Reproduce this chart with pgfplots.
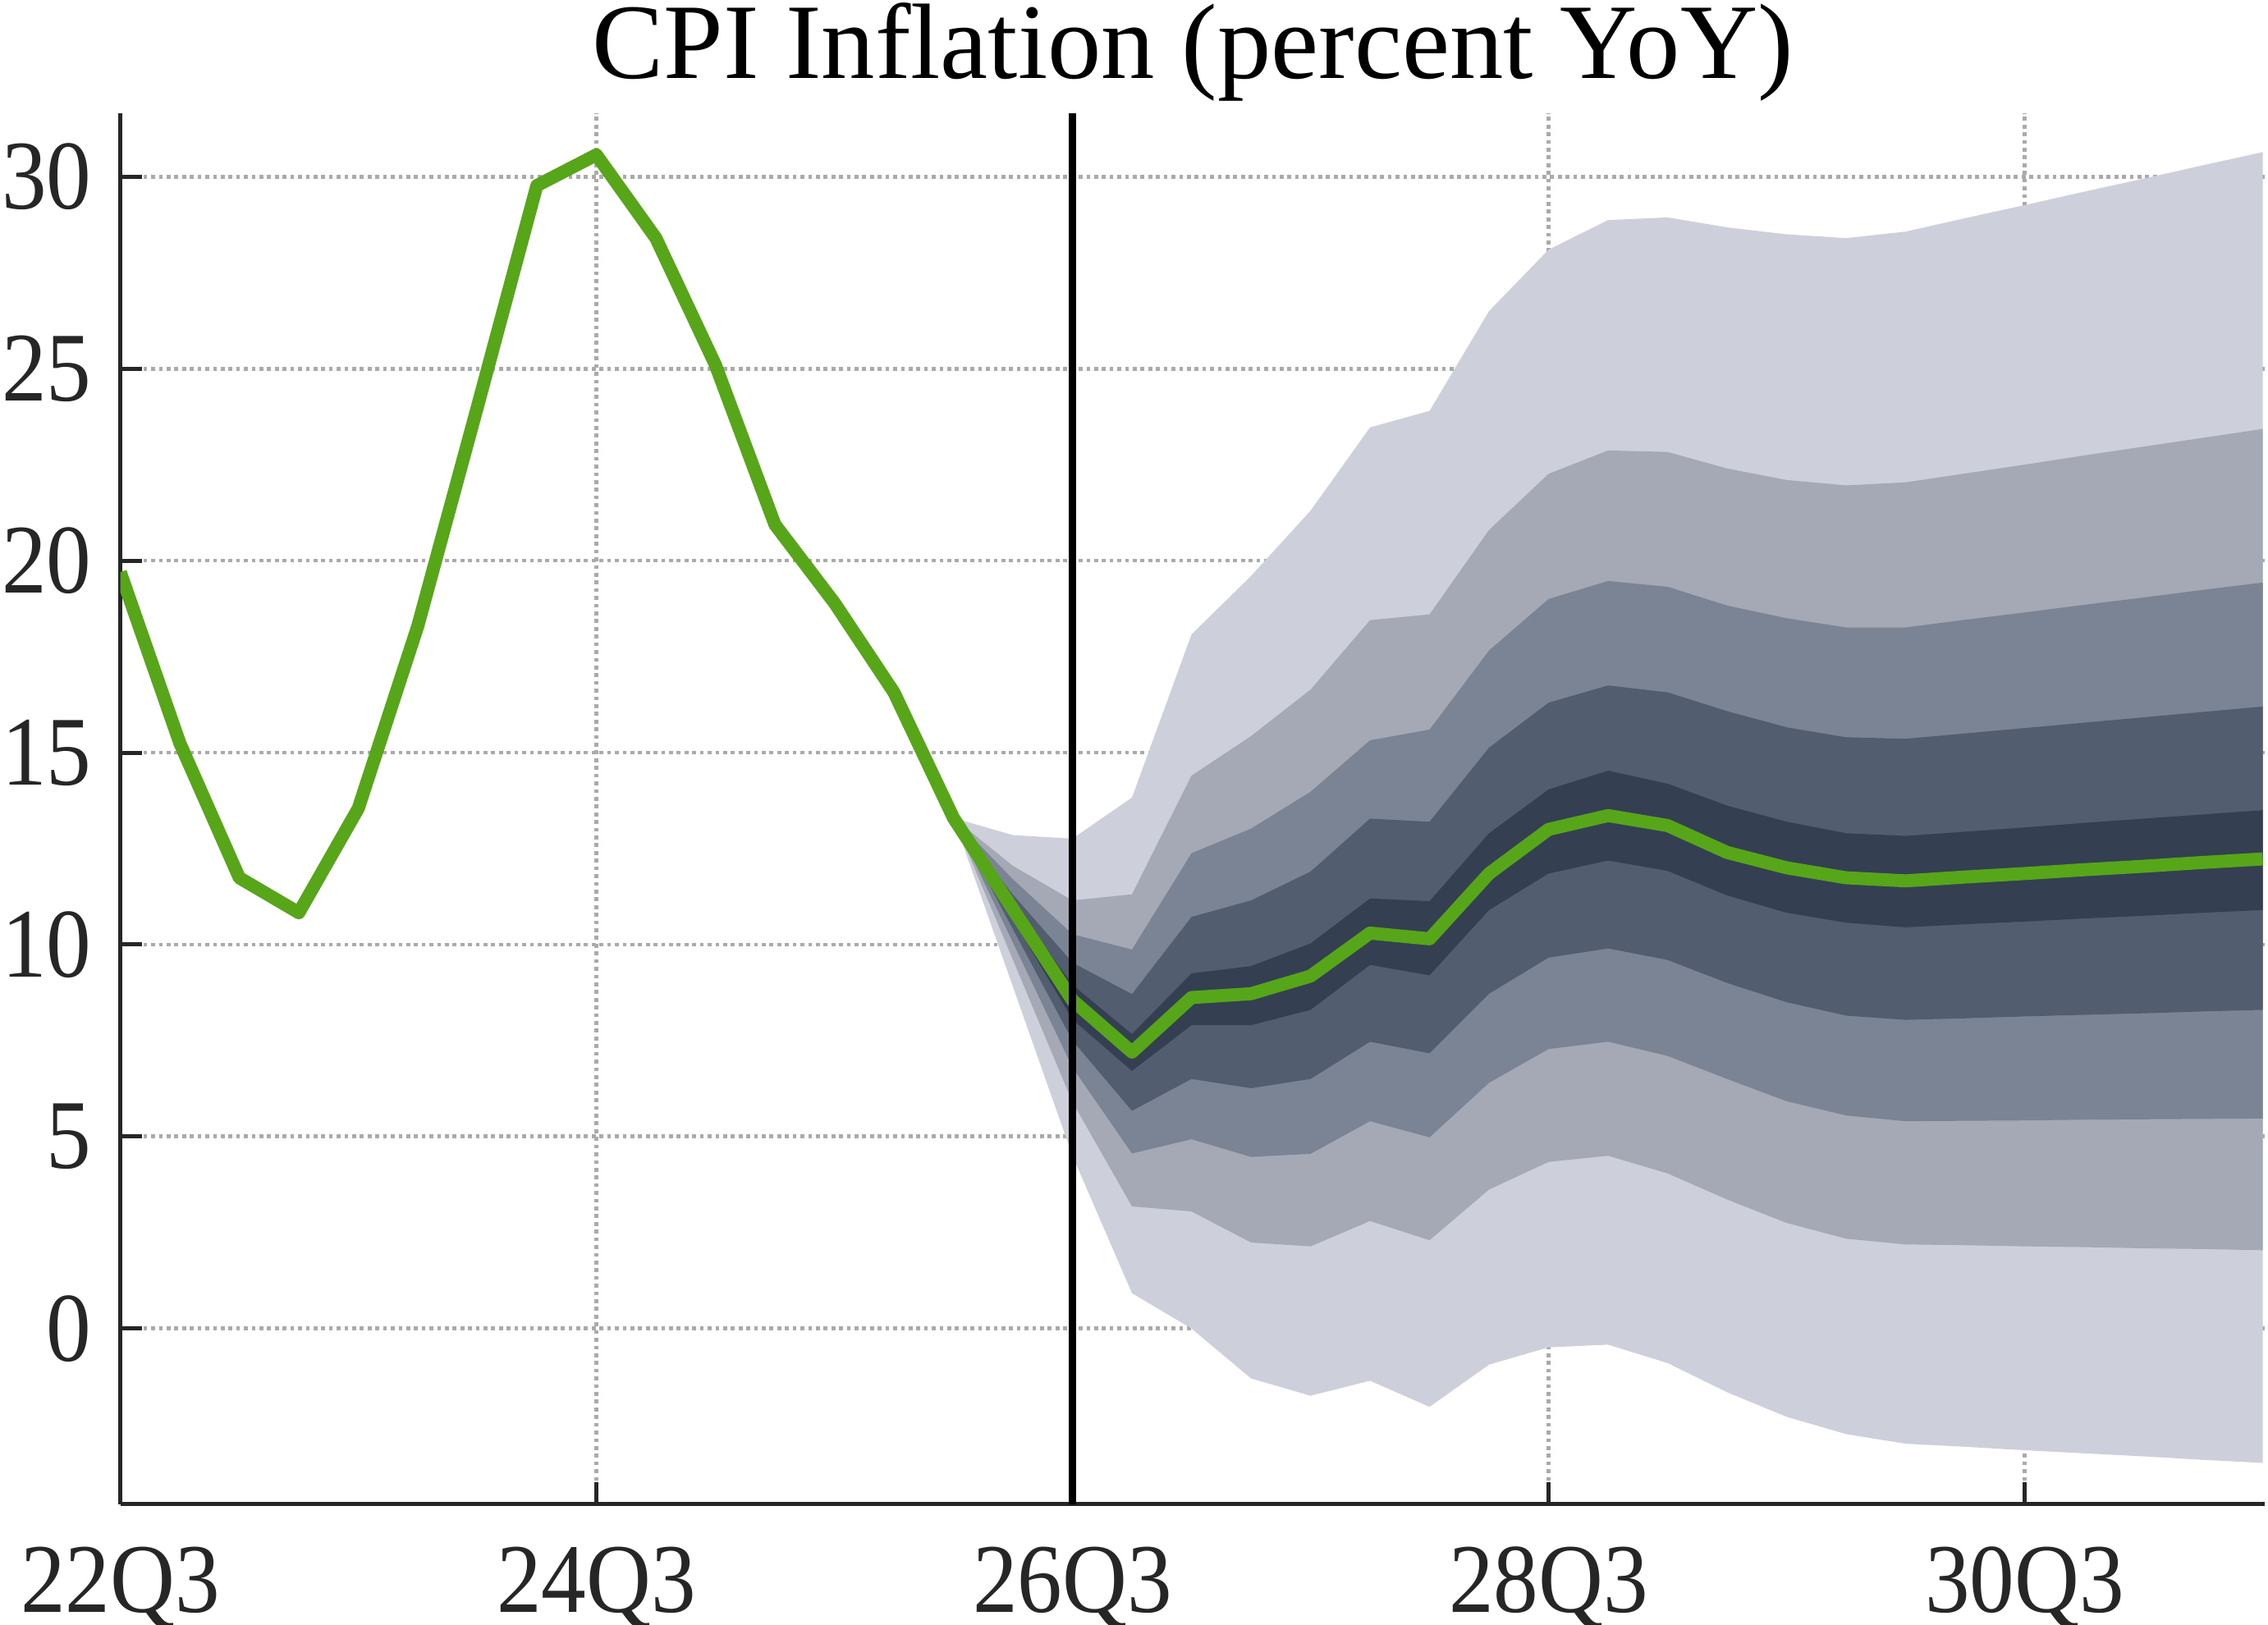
\documentclass[border=0pt]{standalone}
\usepackage{fontspec}
\setmainfont{Liberation Serif}
\newfontfamily\tickfont[FakeStretch=0.91]{Liberation Serif}
\usepackage{pgfplots}
\pgfplotsset{compat=1.18}
\definecolor{fanA}{HTML}{CDD0DA}
\definecolor{fanB}{HTML}{A5A9B5}
\definecolor{fanC}{HTML}{7B8495}
\definecolor{fanD}{HTML}{525E70}
\definecolor{fanE}{HTML}{344052}
\definecolor{cpigreen}{HTML}{57A519}
\definecolor{axisc}{HTML}{262626}
\definecolor{gridc}{HTML}{AAAAAA}
\begin{document}
\begin{tikzpicture}
\begin{axis}[
  name=ax,
  scale only axis, width=444pt, height=288pt,
  xmin=0, xmax=36.04, ymin=-4.57, ymax=31.66,
  axis x line*=bottom, axis y line*=left,
  axis line style={color=axisc, line width=0.9pt},
  xtick={0,8,16,24,32}, xticklabels={22Q3,24Q3,26Q3,28Q3,30Q3},
  ytick={0,5,10,15,20,25,30},
  tick align=inside, major tick length=4.5pt,
  tick style={color=axisc, line width=0.85pt},
  grid=major,
  major grid style={color=gridc, line width=0.8pt, dash pattern=on 0.8pt off 0.8pt},
  ticklabel style={font=\tickfont\fontsize{20.4}{20.4}\selectfont, color=axisc},
  /pgf/number format/assume math mode=true,
  xticklabel style={yshift=-5.4pt},
  yticklabel style={xshift=-2.4pt},
  title={CPI Inflation (percent YoY)},
  title style={at={(0.5,1)}, anchor=base, yshift=1.2pt, font=\fontsize{22.2}{22.2}\selectfont},
]
% outer band
\addplot[fill=fanA, draw=none] coordinates {
(14,13.3)(15,12.85)(16,12.76)(17,13.83)(18,18.08)(19,19.6)(20,21.3)(21,23.47)(22,23.9)(23,26.5)(24,28.1)(25,28.87)(26,28.94)(27,28.68)(28,28.5)(29,28.4)(30,28.57)(31,28.92)(32,29.26)(33,29.61)(34,29.95)(35,30.30)(36,30.64)
(36,-3.5)(35,-3.42)(34,-3.33)(33,-3.25)(32,-3.17)(31,-3.08)(30,-3.0)(29,-2.75)(28,-2.3)(27,-1.66)(26,-0.9)(25,-0.42)(24,-0.49)(23,-0.94)(22,-2.04)(21,-1.36)(20,-1.75)(19,-1.3)(18,0.0)(17,0.92)(16,4.5)(15,8.9)
};
\addplot[fill=fanB, draw=none] coordinates {
(14,13.3)(15,12.05)(16,11.15)(17,11.31)(18,14.4)(19,15.43)(20,16.64)(21,18.45)(22,18.6)(23,20.8)(24,22.26)(25,22.87)(26,22.83)(27,22.4)(28,22.1)(29,21.96)(30,22.04)(31,22.27)(32,22.50)(33,22.74)(34,22.97)(35,23.20)(36,23.43)
(36,2.04)(35,2.07)(34,2.09)(33,2.12)(32,2.14)(31,2.17)(30,2.19)(29,2.34)(28,2.75)(27,3.36)(26,4.04)(25,4.5)(24,4.34)(23,3.62)(22,2.3)(21,2.8)(20,2.14)(19,2.24)(18,3.05)(17,3.18)(16,5.9)(15,9.6)
};
\addplot[fill=fanC, draw=none] coordinates {
(14,13.3)(15,11.7)(16,10.27)(17,9.87)(18,12.38)(19,13.02)(20,13.98)(21,15.32)(22,15.6)(23,17.66)(24,19.0)(25,19.47)(26,19.32)(27,18.83)(28,18.5)(29,18.26)(30,18.26)(31,18.46)(32,18.65)(33,18.85)(34,19.04)(35,19.24)(36,19.43)
(36,5.47)(35,5.46)(34,5.45)(33,5.44)(32,5.42)(31,5.41)(30,5.4)(29,5.55)(28,5.92)(27,6.5)(26,7.1)(25,7.47)(24,7.28)(23,6.4)(22,4.98)(21,5.4)(20,4.55)(19,4.47)(18,4.93)(17,4.56)(16,6.8)(15,10.05)
};
\addplot[fill=fanD, draw=none] coordinates {
(14,13.3)(15,11.3)(16,9.53)(17,8.71)(18,10.72)(19,11.15)(20,11.9)(21,13.28)(22,13.2)(23,15.13)(24,16.3)(25,16.75)(26,16.57)(27,16.08)(28,15.66)(29,15.4)(30,15.36)(31,15.50)(32,15.64)(33,15.78)(34,15.92)(35,16.06)(36,16.2)
(36,8.3)(35,8.26)(34,8.21)(33,8.17)(32,8.13)(31,8.08)(30,8.04)(29,8.15)(28,8.5)(27,9.0)(26,9.6)(25,9.9)(24,9.66)(23,8.72)(22,7.17)(21,7.47)(20,6.5)(19,6.26)(18,6.5)(17,5.67)(16,7.5)(15,10.4)
};
\addplot[fill=fanE, draw=none] coordinates {
(14,13.3)(15,11.1)(16,8.95)(17,7.67)(18,9.25)(19,9.44)(20,10.03)(21,11.2)(22,11.13)(23,12.9)(24,14.04)(25,14.53)(26,14.19)(27,13.62)(28,13.2)(29,12.9)(30,12.83)(31,12.94)(32,13.05)(33,13.17)(34,13.28)(35,13.39)(36,13.5)
(36,10.9)(35,10.83)(34,10.75)(33,10.68)(32,10.60)(31,10.53)(30,10.45)(29,10.57)(28,10.83)(27,11.28)(26,11.92)(25,12.19)(24,11.85)(23,10.9)(22,9.2)(21,9.47)(20,8.3)(19,7.9)(18,7.9)(17,6.71)(16,8.05)(15,10.65)
};
% central projection
\addplot[color=cpigreen, line width=2.7pt, line join=round] coordinates {
(0,19.7)(1,15.25)(2,11.74)(3,10.83)(4,13.55)(5,18.3)(6,24.0)(7,29.77)(8,30.57)(9,28.4)(10,25.1)(11,20.94)(12,18.9)(13,16.57)(14,13.3)(15,10.92)(16,8.55)(17,7.2)(18,8.62)(19,8.72)(20,9.18)(21,10.3)(22,10.15)(23,11.85)(24,13.0)(25,13.36)(26,13.1)(27,12.4)(28,12.0)(29,11.74)(30,11.66)(31,11.76)(32,11.85)(33,11.95)(34,12.04)(35,12.14)(36,12.23)
};
% forecast start
\addplot[color=black, line width=1.4pt] coordinates {(16,-4.57)(16,31.66)};
\end{axis}
\pgfresetboundingbox
\path ([shift={(-24.9pt,-24.9pt)}]ax.south west) rectangle ([shift={(0.6pt,23.4pt)}]ax.north east);
\end{tikzpicture}
\end{document}
